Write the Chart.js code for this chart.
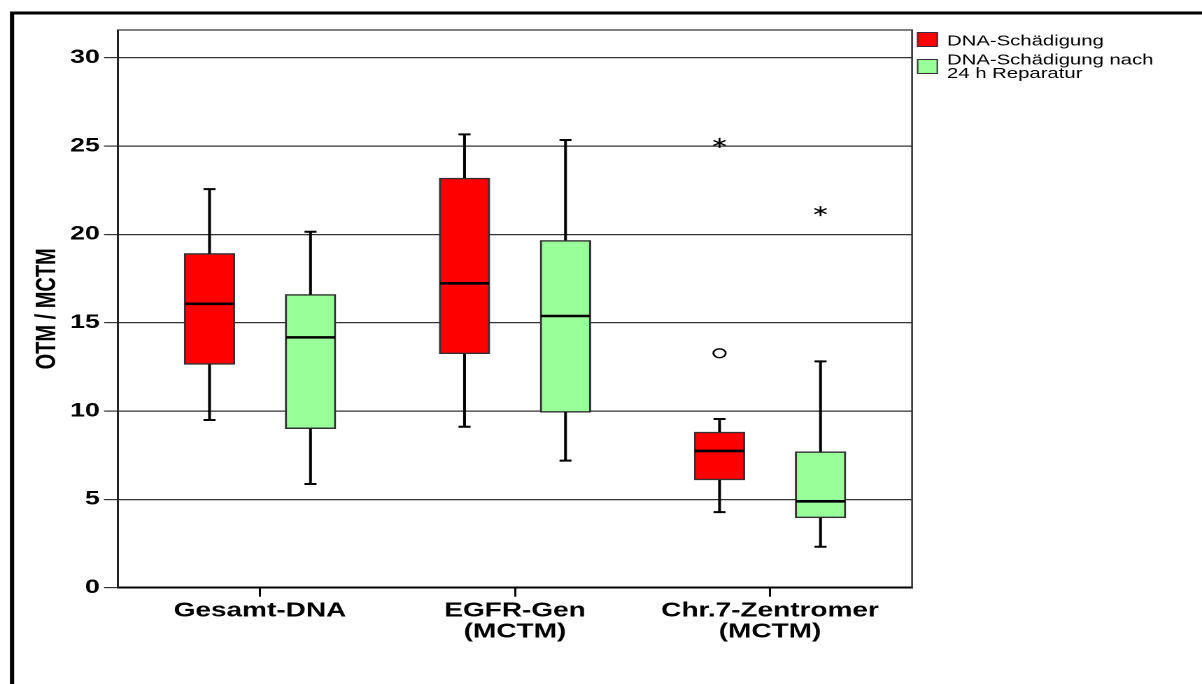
<!DOCTYPE html>
<html>
<head>
<meta charset="utf-8">
<script src="https://cdn.jsdelivr.net/npm/chart.js@4/dist/chart.umd.min.js"></script>
<style>
  html, body { margin: 0; padding: 0; background: #fff; overflow: hidden; }
  #wrap { position: absolute; left: 0; top: 0; width: 859px; height: 684px;
          transform: scaleX(1.3993); transform-origin: 0 0; }
  canvas { display: block; }
</style>
</head>
<body>
<div id="wrap"><canvas id="chart" style="width:859px;height:684px"></canvas></div>
<script>
// Groups on the x axis
const categories = ['Gesamt-DNA', ['EGFR-Gen', '(MCTM)'], ['Chr.7-Zentromer', '(MCTM)']];

// Series names
const seriesNames = ['DNA-Schädigung', 'DNA-Schädigung nach 24 h Reparatur'];
const legendLines = [['DNA-Schädigung'], ['DNA-Schädigung nach', '24 h Reparatur']];

// Box plot statistics: DNA-Schädigung
const damageLow    = [9.49, 9.11, 4.28];
const damageQ1     = [12.64, 13.24, 6.10];
const damageMedian = [16.07, 17.23, 7.74];
const damageQ3     = [18.92, 23.19, 8.81];
const damageHigh   = [22.56, 25.66, 9.55];
const damageOutliers = [null, null, 13.27];   // drawn as circles
const damageExtremes = [null, null, 25.18];   // drawn as asterisks

// Box plot statistics: DNA-Schädigung nach 24 h Reparatur
const repairLow    = [5.87, 7.19, 2.32];
const repairQ1     = [9.00, 9.93, 3.96];
const repairMedian = [14.17, 15.38, 4.89];
const repairQ3     = [16.60, 19.66, 7.70];
const repairHigh   = [20.15, 25.34, 12.81];
const repairOutliers = [null, null, null];
const repairExtremes = [null, null, 21.32];

// Y axis ticks
const yTicks = [0, 5, 10, 15, 20, 25, 30];

const colors = ['#ff0000', '#99ff99'];
const SHIFT = 0.198;        // box offset from the group centre, in x units

const series = [
  { low: damageLow, q1: damageQ1, med: damageMedian, q3: damageQ3, high: damageHigh,
    outl: damageOutliers, ext: damageExtremes, shift: -SHIFT },
  { low: repairLow, q1: repairQ1, med: repairMedian, q3: repairQ3, high: repairHigh,
    outl: repairOutliers, ext: repairExtremes, shift: SHIFT }
];

const FONT = "'Liberation Sans', Arial, sans-serif";

const boxPlot = {
  id: 'boxPlot',
  beforeDraw(chart) {
    const ctx = chart.ctx;
    ctx.save();
    ctx.fillStyle = '#fff';
    ctx.fillRect(0, 0, chart.width, chart.height);
    // outer frame
    ctx.strokeStyle = '#000';
    ctx.lineWidth = 3;
    ctx.beginPath();
    ctx.moveTo(8.6, chart.height + 2);
    ctx.lineTo(8.6, 13);
    ctx.lineTo(chart.width + 2, 13);
    ctx.stroke();
    ctx.restore();
  },
  afterDatasetsDraw(chart) {
    const ctx = chart.ctx;
    const xs = chart.scales.x, ys = chart.scales.y;
    const half = 18, cap = 4.3;
    ctx.save();
    series.forEach(s => {
      s.q1.forEach((_, i) => {
        const x = xs.getPixelForValue(i + s.shift);
        const yLow = ys.getPixelForValue(s.low[i]);
        const yHigh = ys.getPixelForValue(s.high[i]);
        const yQ1 = ys.getPixelForValue(s.q1[i]);
        const yQ3 = ys.getPixelForValue(s.q3[i]);
        const yMed = ys.getPixelForValue(s.med[i]);
        ctx.strokeStyle = '#000';
        // whiskers
        ctx.lineWidth = 2;
        ctx.beginPath();
        ctx.moveTo(x, yQ3); ctx.lineTo(x, yHigh);
        ctx.moveTo(x, yQ1); ctx.lineTo(x, yLow);
        ctx.stroke();
        ctx.beginPath();
        ctx.moveTo(x - cap, yHigh); ctx.lineTo(x + cap, yHigh);
        ctx.moveTo(x - cap, yLow); ctx.lineTo(x + cap, yLow);
        ctx.stroke();
        // median
        ctx.lineWidth = 2.6;
        ctx.beginPath();
        ctx.moveTo(x - half + 0.5, yMed); ctx.lineTo(x + half - 0.5, yMed);
        ctx.stroke();
        // outliers
        ctx.lineWidth = 1.4;
        if (s.outl[i] != null) {
          const y = ys.getPixelForValue(s.outl[i]);
          ctx.fillStyle = '#fff';
          ctx.beginPath();
          ctx.arc(x, y, 4.4, 0, Math.PI * 2);
          ctx.fill();
          ctx.stroke();
        }
        if (s.ext[i] != null) {
          const y = ys.getPixelForValue(s.ext[i]);
          const r = 5;
          ctx.lineWidth = 1.3;
          ctx.beginPath();
          for (let k = 0; k < 3; k++) {
            const a = Math.PI / 2 + k * Math.PI / 3;
            ctx.moveTo(x + r * Math.cos(a), y + r * Math.sin(a));
            ctx.lineTo(x - r * Math.cos(a), y - r * Math.sin(a));
          }
          ctx.stroke();
        }
      });
    });
    // top and right edges of the plot area
    const a = chart.chartArea;
    ctx.strokeStyle = '#333';
    ctx.lineWidth = 1.3;
    ctx.beginPath();
    ctx.moveTo(a.left, a.top); ctx.lineTo(a.right, a.top); ctx.lineTo(a.right, a.bottom);
    ctx.stroke();
    ctx.restore();
  },
  afterDraw(chart) {
    const ctx = chart.ctx;
    const a = chart.chartArea;
    ctx.save();
    const sx = a.right + 3.5;
    const tops = [32, 59];
    const baselines = [45.5, 64.5];
    const textX = sx + 21.5;
    ctx.font = '14.5px ' + FONT;
    ctx.textBaseline = 'alphabetic';
    ctx.textAlign = 'left';
    legendLines.forEach((lines, k) => {
      ctx.fillStyle = colors[k];
      ctx.fillRect(sx, tops[k], 15, 15);
      ctx.strokeStyle = '#333';
      ctx.lineWidth = 1;
      ctx.strokeRect(sx + 0.5, tops[k] + 0.5, 14, 14);
      ctx.fillStyle = '#000';
      lines.forEach((t, j) => ctx.fillText(t, textX, baselines[k] + j * 13.5));
    });
    ctx.restore();
  }
};

const datasets = series.map((s, k) => ({
  label: seriesNames[k],
  data: s.q1.map((q, i) => ({ x: i + s.shift, y: [q, s.q3[i]] })),
  backgroundColor: colors[k],
  borderColor: '#333',
  borderWidth: 1.5,
  borderSkipped: false,
  barThickness: 36,
  grouped: false
}));

new Chart(document.getElementById('chart'), {
  type: 'bar',
  data: { datasets },
  options: {
    responsive: false,
    devicePixelRatio: 2,
    animation: false,
    events: [],
    layout: { padding: { left: 0, top: 30, right: 207.2, bottom: 0 } },
    plugins: { legend: { display: false }, tooltip: { enabled: false } },
    scales: {
      x: {
        type: 'linear',
        min: -0.557,
        max: 2.557,
        offset: false,
        afterFit: s => { s.height = 96.3; },
        afterBuildTicks: s => { s.ticks = categories.map((_, i) => ({ value: i })); },
        grid: { offset: false, drawOnChartArea: false, drawTicks: true, tickLength: 9,
                color: '#000', lineWidth: 1.5 },
        border: { display: true, color: '#000', width: 2 },
        ticks: {
          autoSkip: false, maxRotation: 0, padding: 4, color: '#000',
          font: { family: FONT, size: 20, weight: 'bold', lineHeight: 1.05 },
          callback: v => categories[v]
        }
      },
      y: {
        min: 0,
        max: 31.57,
        afterFit: s => { s.width = 84.3; },
        afterBuildTicks: s => { s.ticks = yTicks.map(v => ({ value: v })); },
        grid: { color: '#333', lineWidth: 1.2, drawTicks: true, tickLength: 10 },
        border: { display: true, color: '#222', width: 1.5 },
        ticks: { padding: 3, color: '#000',
                 font: { family: FONT, size: 19, weight: 'bold' } },
        title: { display: true, text: 'OTM / MCTM', color: '#000',
                 padding: { top: 22, bottom: 0 },
                 font: { family: FONT, size: 20, weight: 'bold' } }
      }
    }
  },
  plugins: [boxPlot]
});
</script>
</body>
</html>
